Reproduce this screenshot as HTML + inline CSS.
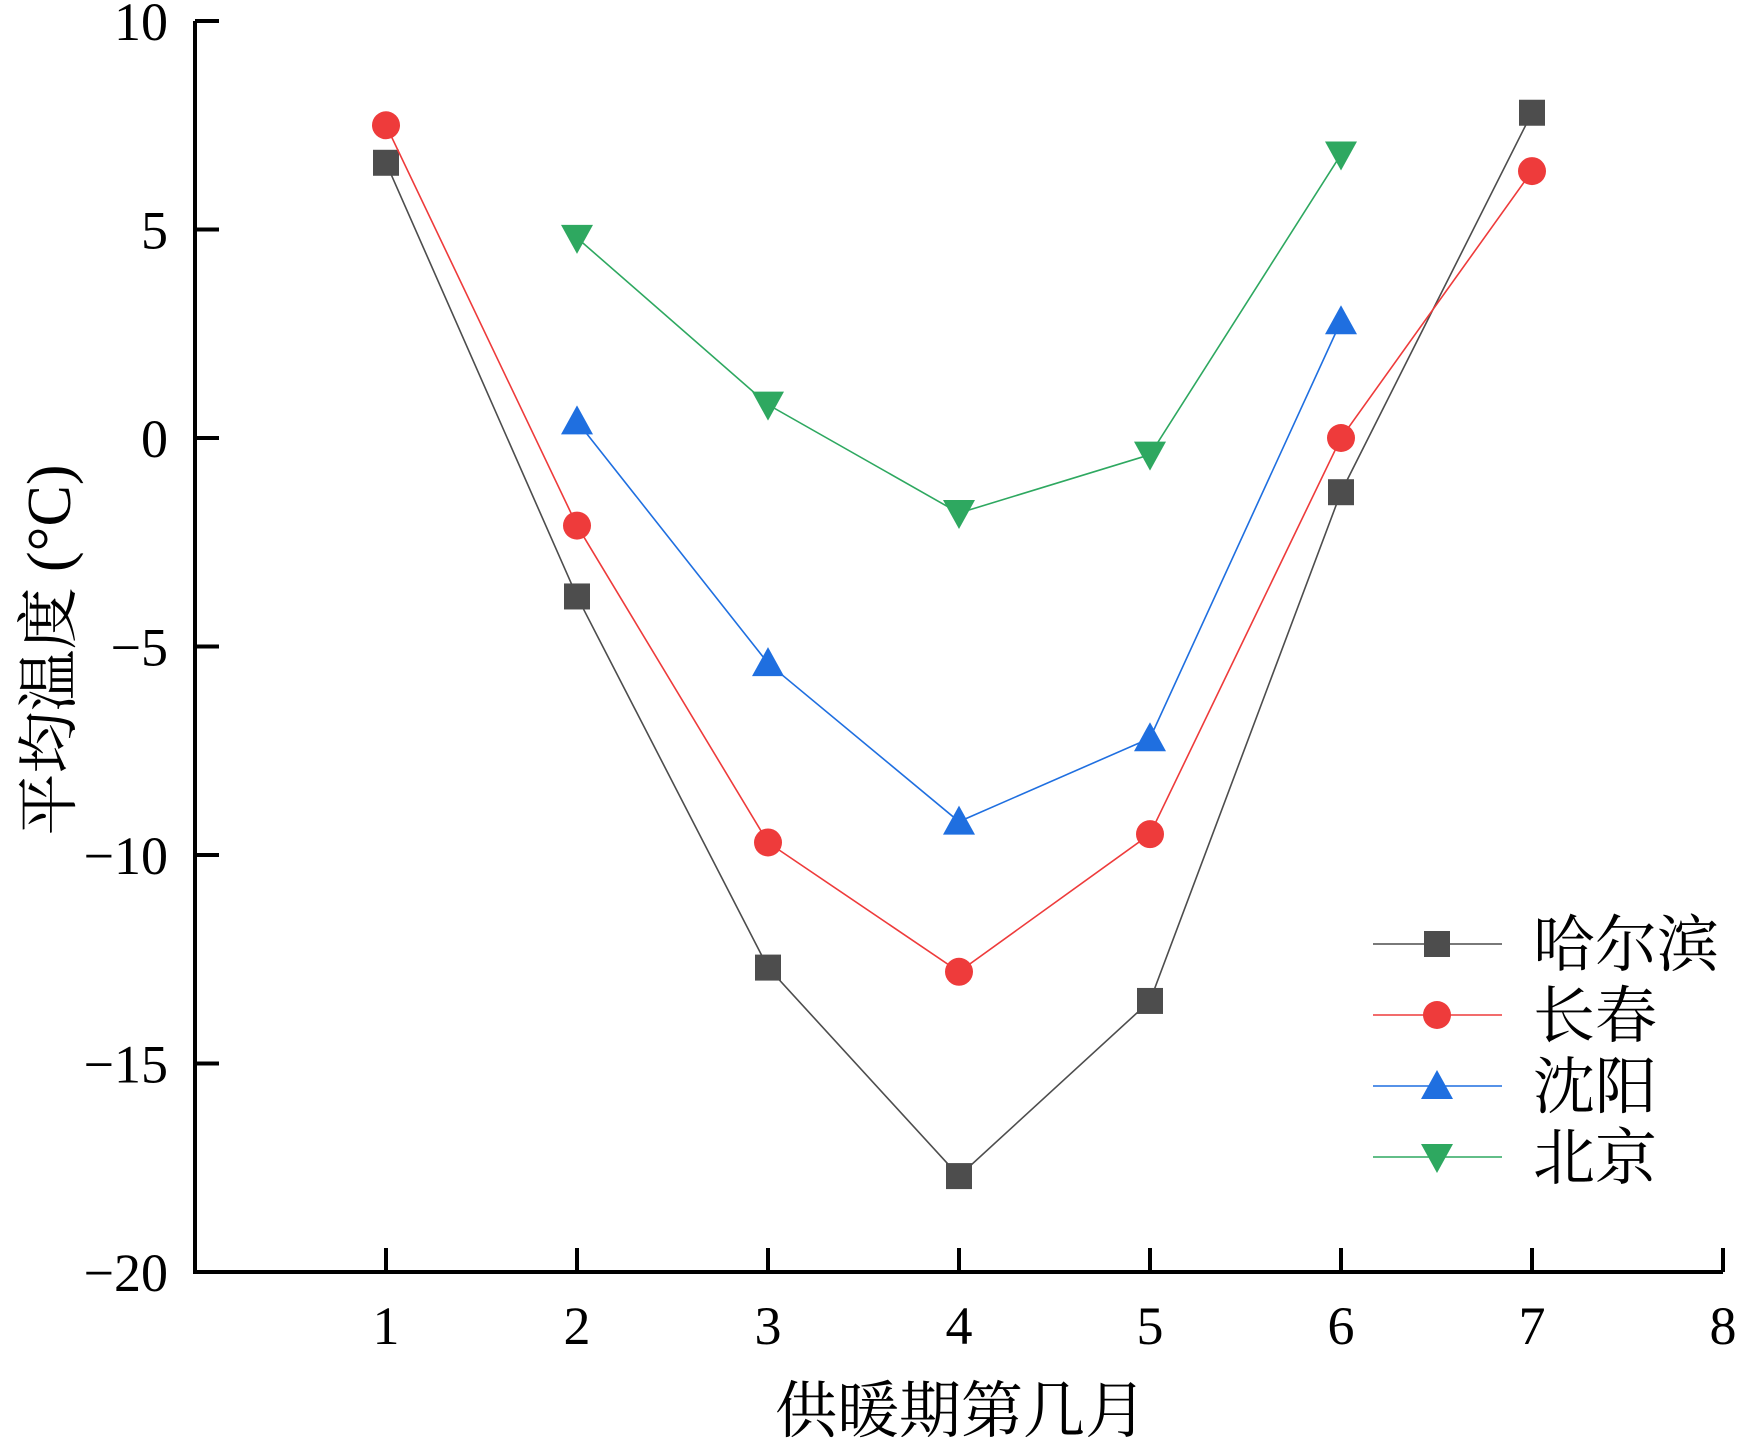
<!DOCTYPE html>
<html><head><meta charset="utf-8"><style>body{margin:0;background:#fff}svg{display:block}</style></head>
<body>
<svg id="chart" width="1748" height="1444" xmlns="http://www.w3.org/2000/svg"></svg>
<script>
const xTicks=[1,2,3,4,5,6,7,8];
const yTicks=[10,5,0,-5,-10,-15,-20];
const harbinX=[1,2,3,4,5,6,7];
const harbin=[6.6,-3.8,-12.7,-17.7,-13.5,-1.3,7.8];
const changchunX=[1,2,3,4,5,6,7];
const changchun=[7.5,-2.1,-9.7,-12.8,-9.5,0.0,6.4];
const shenyangX=[2,3,4,5,6];
const shenyang=[0.4,-5.4,-9.2,-7.2,2.8];
const beijingX=[2,3,4,5,6];
const beijing=[4.8,0.8,-1.8,-0.4,6.8];
const seriesNames=["哈尔滨","长春","沈阳","北京"];

const NS="http://www.w3.org/2000/svg";
const svg=document.getElementById('chart');
const X0=195,X1=1723,Y0=1272,Y1=21;
const CJK='Liberation Serif, Noto Serif CJK SC, serif';
const sx=v=>X0+(v-0)/(8-0)*(X1-X0);
const sy=v=>Y0-(v+20)/30*(Y0-Y1);
function el(t,a,p){const e=document.createElementNS(NS,t);for(const k in a)e.setAttribute(k,a[k]);(p||svg).appendChild(e);return e;}

const ax=el('path',{d:`M${X0},${Y1} V${Y0} H${X1}`,fill:'none',stroke:'#000','stroke-width':4});


xTicks.forEach(t=>{
  const l=el('line',{x1:sx(t),x2:sx(t),y1:Y0,y2:Y0-24,stroke:'#000','stroke-width':4});
  
  
  const tx=el('text',{x:sx(t),y:1344,'text-anchor':'middle','font-size':54,'font-family':'Liberation Serif, serif'});
  tx.textContent=t;
  
  
});
yTicks.forEach(t=>{
  const l=el('line',{x1:X0,x2:X0+24,y1:sy(t),y2:sy(t),stroke:'#000','stroke-width':4});
  
  
  const tx=el('text',{x:168,y:sy(t)+19,'text-anchor':'end','font-size':54,'font-family':'Liberation Serif, serif'});
  tx.textContent=t<0?'\u2212'+(-t):t;
  
  
});
const xt=el('text',{x:961,y:1432,'text-anchor':'middle','font-size':62,'font-family':CJK});
xt.textContent='供暖期第几月';


const yt=el('text',{x:0,y:0,transform:'translate(70,650) rotate(-90)','text-anchor':'middle','font-size':62,'font-family':CJK});
yt.textContent='平均温度 (°C)';



function marker(kind,x,y,color,g){
  let m;
  if(kind==='sq') m=el('rect',{x:x-13,y:y-13,width:26,height:26,fill:color},g);
  else if(kind==='ci') m=el('circle',{cx:x,cy:y,r:14,fill:color},g);
  else if(kind==='up') m=el('polygon',{points:`${x},${y-16} ${x-16},${y+13} ${x+16},${y+13}`,fill:color},g);
  else m=el('polygon',{points:`${x},${y+16} ${x-16},${y-13} ${x+16},${y-13}`,fill:color},g);
  return m;
}
const series=[
  [harbinX,harbin,'#4d4d4d','sq','harbin'],
  [changchunX,changchun,'#ee3b3b','ci','changchun'],
  [shenyangX,shenyang,'#1f6fe0','up','shenyang'],
  [beijingX,beijing,'#2ea860','dn','beijing']
];
series.forEach((s,i)=>{
  const [xs,ys,c,k,n]=s;
  const g=el('g',{});
  
  
  const pl=el('polyline',{points:xs.map((x,j)=>sx(x)+','+sy(ys[j])).join(' '),fill:'none',stroke:c,'stroke-width':1.6},g);
  
  
  xs.forEach((x,j)=>{
    const m=marker(k,sx(x),sy(ys[j]),c,g);
    
    
  });
  const ly=944+i*71;
  const lg=el('g',{});
  
  
  el('line',{x1:1373,x2:1502,y1:ly,y2:ly,stroke:c,'stroke-width':1.6},lg);
  marker(k,1437,ly,c,lg);
  const t=el('text',{x:1533,y:ly+22,'font-size':62,'font-family':CJK},lg);
  t.textContent=seriesNames[i];
});
</script>
</body></html>
